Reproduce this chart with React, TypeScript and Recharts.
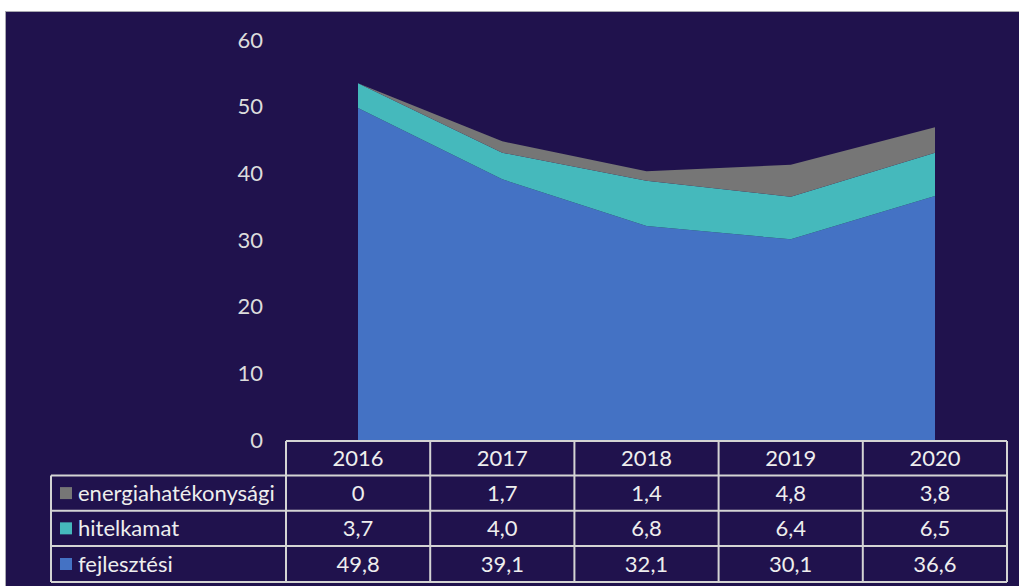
import React from "react";
import { AreaChart, Area, XAxis, YAxis } from "recharts";

const years = ["2016", "2017", "2018", "2019", "2020"];
const fejlesztesi = [49.8, 39.1, 32.1, 30.1, 36.6];
const hitelkamat = [3.7, 4.0, 6.8, 6.4, 6.5];
const energia = [0, 1.7, 1.4, 4.8, 3.8];
const yTicks = [0, 10, 20, 30, 40, 50, 60];

const seriesRows = [
  { name: "energiahatékonysági", values: energia, color: "#767676" },
  { name: "hitelkamat", values: hitelkamat, color: "#45b9bc" },
  { name: "fejlesztési", values: fejlesztesi, color: "#4472c4" },
];

const fmt = (v: number) => (v === 0 ? "0" : v.toFixed(1).replace(".", ","));

const data = years.map((y, i) => ({
  year: y,
  fej: fejlesztesi[i],
  hit: hitelkamat[i],
  ene: energia[i],
}));

const FONT = "Lato, 'Noto Sans', sans-serif";
const LINE_COLOR = "#d4d4d4";
const TEXT_COLOR = "#eeeeee";
const FS = 22;

function DataTable() {
  const x0 = 51;
  const x1 = 286;
  const colW = 144.2;
  const xEnd = x1 + colW * years.length;
  const rowY = [441, 475.5, 510.7, 546, 582];
  const lines: React.ReactNode[] = [];
  rowY.forEach((y, i) => {
    lines.push(
      <line key={"h" + i} x1={i === 0 ? x1 : x0} x2={xEnd} y1={y} y2={y} stroke={LINE_COLOR} strokeWidth={2} />
    );
  });
  lines.push(<line key="v0" x1={x0} x2={x0} y1={rowY[1]} y2={rowY[4]} stroke={LINE_COLOR} strokeWidth={2} />);
  for (let i = 0; i <= years.length; i++) {
    const x = x1 + i * colW;
    lines.push(<line key={"v" + (i + 1)} x1={x} x2={x} y1={rowY[0]} y2={rowY[4]} stroke={LINE_COLOR} strokeWidth={2} />);
  }
  const center = (r: number) => (rowY[r] + rowY[r + 1]) / 2;
  const base = (r: number) => center(r) + 7.5;
  return (
    <svg width={1019} height={586} style={{ position: "absolute", left: 0, top: 0 }}>
      {lines}
      {years.map((y, i) => (
        <text key={y} x={x1 + colW * (i + 0.5)} y={base(0)} textAnchor="middle" fill={TEXT_COLOR} fontSize={FS} fontFamily={FONT}>
          {y}
        </text>
      ))}
      {seriesRows.map((s, r) => (
        <g key={s.name}>
          <rect x={60} y={center(r + 1) - 6} width={12} height={12} fill={s.color} />
          <text x={78} y={base(r + 1)} fill={TEXT_COLOR} fontSize={FS} fontFamily={FONT}>
            {s.name}
          </text>
          {s.values.map((v, i) => (
            <text key={i} x={x1 + colW * (i + 0.5)} y={base(r + 1)} textAnchor="middle" fill={TEXT_COLOR} fontSize={FS} fontFamily={FONT}>
              {fmt(v)}
            </text>
          ))}
        </g>
      ))}
    </svg>
  );
}

export default function App() {
  return (
    <div
      style={{
        position: "fixed",
        left: 0,
        top: 0,
        width: 1019,
        height: 586,
        background: "#ffffff",
        overflow: "hidden",
        fontFamily: FONT,
      }}
    >
      <div
        style={{
          position: "absolute",
          left: 5,
          top: 11,
          width: 1030,
          height: 600,
          background: "#20124d",
          borderTop: "1px solid #a8a8b0",
          borderLeft: "1px solid #a8a8b0",
        }}
      />
      <div style={{ position: "absolute", left: 0, top: 0 }}>
        <AreaChart
          width={1019}
          height={586}
          data={data}
          margin={{ top: 40, right: 12, bottom: 146, left: 226 }}
        >
          <XAxis dataKey="year" hide padding={{ left: 72, right: 72 }} />
          <YAxis
            width={60}
            domain={[0, 60]}
            ticks={yTicks}
            axisLine={false}
            tickLine={false}
            tickSize={0}
            tickMargin={23}
            tick={{ fill: "#dcdcdc", fontSize: FS, fontFamily: FONT }}
          />
          <Area type="linear" dataKey="fej" stackId="1" fill="#4472c4" fillOpacity={1} stroke="none" isAnimationActive={false} />
          <Area type="linear" dataKey="hit" stackId="1" fill="#45b9bc" fillOpacity={1} stroke="none" isAnimationActive={false} />
          <Area type="linear" dataKey="ene" stackId="1" fill="#767676" fillOpacity={1} stroke="none" isAnimationActive={false} />
        </AreaChart>
      </div>
      <DataTable />
    </div>
  );
}
